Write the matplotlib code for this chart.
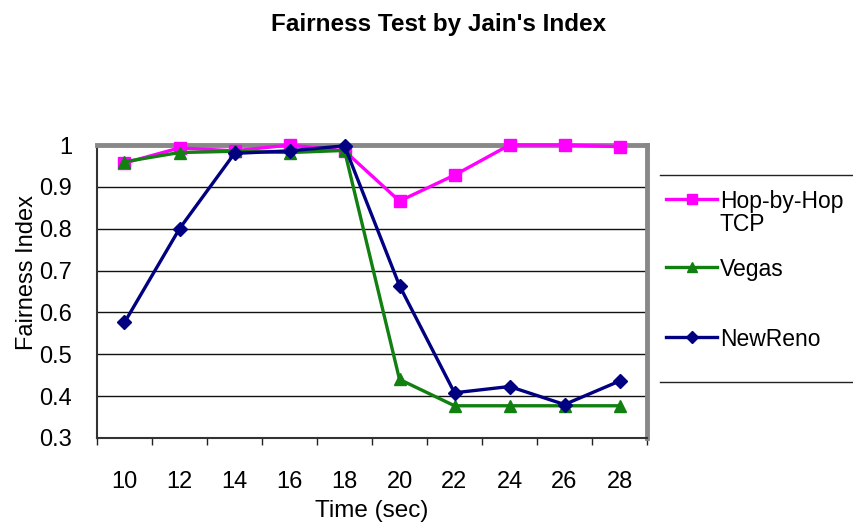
import matplotlib
matplotlib.use("Agg")
import matplotlib.pyplot as plt
from matplotlib.lines import Line2D
import numpy as np

plt.rcParams['font.family'] = ['Liberation Sans', 'DejaVu Sans']

times = [10, 12, 14, 16, 18, 20, 22, 24, 26, 28]
hop_by_hop = [0.957, 0.993, 0.986, 1.0, 0.986, 0.866, 0.928, 1.0, 1.0, 0.996]
vegas = [0.96, 0.982, 0.985, 0.982, 0.987, 0.44, 0.377, 0.377, 0.377, 0.377]
newreno = [0.576, 0.80, 0.98, 0.986, 0.998, 0.664, 0.408, 0.423, 0.38, 0.436]
series_labels = ['Hop-by-Hop\nTCP', 'Vegas', 'NewReno']
y_ticks = [0.3, 0.4, 0.5, 0.6, 0.7, 0.8, 0.9, 1.0]
y_tick_labels = ['0.3', '0.4', '0.5', '0.6', '0.7', '0.8', '0.9', '1']

colors = ['#FF00FF', '#118011', '#000080']
markers = ['s', '^', 'D']
msizes = [8, 8.5, 7.5]

W, H = 854, 522
fig = plt.figure(figsize=(W / 100, H / 100), dpi=100)
ax = fig.add_axes([97 / W, 1 - 438 / H, 550 / W, 293 / H])

x = np.arange(len(times))
for vals, c, m, ms, z in zip([hop_by_hop, vegas, newreno], colors, markers, msizes, [3, 4, 5]):
    ax.plot(x, vals, color=c, lw=2.4, marker=m, ms=ms, zorder=z, clip_on=False)

ax.set_xlim(-0.5, len(times) - 0.5)
ax.set_ylim(0.3, 1.0)
ax.set_yticks(y_ticks)
ax.set_yticklabels(y_tick_labels, fontsize=17)
ax.set_xticks(x)
ax.set_xticklabels([str(t) for t in times], fontsize=17)
ax.set_xticks(np.arange(-0.5, len(times), 1.0), minor=True)
ax.tick_params(axis='x', which='major', length=0, pad=24)
ax.tick_params(axis='x', which='minor', length=5, width=1, color='#222222', direction='out')
ax.tick_params(axis='y', which='major', length=0, pad=18)

for yv in y_ticks[1:-1]:
    ax.axhline(yv, color='#111111', lw=1.0, zorder=1)

for s in ['left', 'bottom']:
    ax.spines[s].set_color('#333333')
    ax.spines[s].set_linewidth(1.5)
for s in ['top', 'right']:
    ax.spines[s].set_color('#888888')
    ax.spines[s].set_linewidth(3.5)

ax.set_xlabel('Time (sec)', fontsize=17.5, labelpad=5)
ax.set_ylabel('Fairness Index', fontsize=17)
ax.yaxis.set_label_coords(-0.108, 0.565)

fig.text(439 / W, 1 - 25 / H, "Fairness Test by Jain's Index", ha='center', va='center',
         fontsize=17.5, fontweight='bold')

# legend drawn manually
leg_y = [199, 267, 337]
for lab, c, m, ms, yy in zip(series_labels, colors, markers, msizes, leg_y):
    yf = 1 - yy / H
    fig.add_artist(Line2D([666 / W, 717 / W], [yf, yf], color=c, lw=2.4, transform=fig.transFigure))
    fig.add_artist(Line2D([692 / W], [yf], color=c, marker=m, ms=ms - 1, lw=0, transform=fig.transFigure))
    lines = lab.split('\n')
    for i, ln in enumerate(lines):
        fig.text(720 / W, 1 - (yy + i * 23.5) / H, ln, ha='left', va='center_baseline', fontsize=16.5)

fig.add_artist(Line2D([660 / W, 1.0], [1 - 175 / H, 1 - 175 / H], color='#222222', lw=1.0, transform=fig.transFigure))
fig.add_artist(Line2D([660 / W, 1.0], [1 - 382 / H, 1 - 382 / H], color='#222222', lw=1.0, transform=fig.transFigure))

fig.savefig('out.png', dpi=100)
